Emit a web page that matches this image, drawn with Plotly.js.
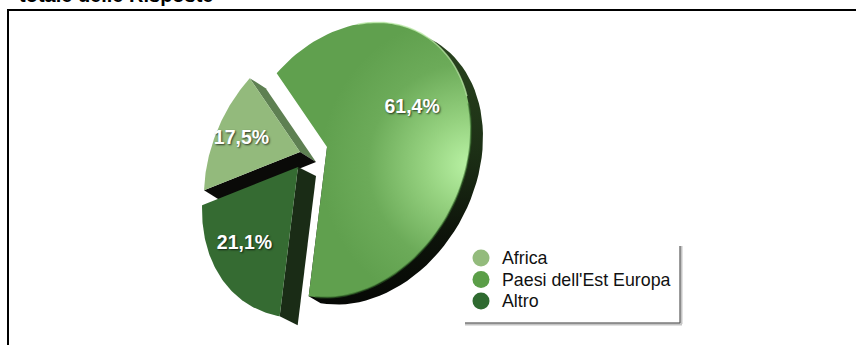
<!DOCTYPE html>
<html lang="it">
<head>
<meta charset="utf-8">
<script src="https://cdn.plot.ly/plotly-3.0.1.min.js"></script>
<style>html,body{margin:0;padding:0;background:#fff}#chart{width:856px;height:345px}</style>
</head>
<body>
<div id="chart"></div>
<script>
// Survey shares, in drawing order clockwise round the pie
const categories = ["Africa", "Paesi dell'Est Europa", "Altro"];
const shares = [17.5, 61.4, 21.1];
const faceColours = ["#93ba7c", "#60a04e", "#356b32"];
const legendColours = ["#93bb7c", "#5b9e48", "#2f6a30"];
const headingText = "totale delle Risposte";

const FONT = '"Liberation Sans", Arial, sans-serif';
const rad = d => d * Math.PI / 180;

// Tilted-disc projection: unit disc to an off-centre ellipse, keeping chords straight
const TILT = { beta: 0.245, dir: 215.3, cx: 351, cy: 160, ux: 120, uy: -30, vy: 134.3 };
function project(angle, r) {
  const a = rad(angle), px = r * Math.cos(a), py = r * Math.sin(a);
  const d = 1 + TILT.beta * px;
  const wa = (px + TILT.beta) / d, wb = py * Math.sqrt(1 - TILT.beta * TILT.beta) / d;
  const e = rad(TILT.dir);
  const n1 = Math.cos(e) * wa - Math.sin(e) * wb, n2 = Math.sin(e) * wa + Math.cos(e) * wb;
  return [TILT.cx + TILT.ux * n1, TILT.cy + TILT.uy * n1 + TILT.vy * n2];
}

// Each slice's angular span comes from its share
const START = -42;
const spans = [];
shares.reduce((acc, s) => { spans.push([acc, acc + s * 3.6]); return acc + s * 3.6; }, START);

const shifts = [[-27, 5], [0, 0], [-29, 20]];   // how far each slice is pulled out
const depths = [[16, 10], [12, 7], [18, 9]];    // extrusion vector of each slice
const labelPlace = [[0.52, -11, -1], [0.63, 7, 3], [0.58, -7, 13]];

function rim(i, off) {
  const [a0, a1] = spans[i], pts = [];
  for (let k = 0; k <= 80; k++) {
    const p = project(a0 + (a1 - a0) * k / 80, 1);
    pts.push([p[0] + shifts[i][0] + off[0], p[1] + shifts[i][1] + off[1]]);
  }
  return pts;
}
function apex(i, off) {
  const p = project(0, 0);
  return [p[0] + shifts[i][0] + off[0], p[1] + shifts[i][1] + off[1]];
}
function poly(pts, extra) {
  return Object.assign({
    type: "scatter", mode: "lines", x: pts.map(p => p[0]), y: pts.map(p => p[1]),
    fill: "toself", line: { width: 0 }, hoverinfo: "skip", showlegend: false
  }, extra);
}
function face(i) {
  const pts = rim(i, [0, 0]);
  return poly([apex(i, [0, 0])].concat(pts, [apex(i, [0, 0])]),
    { fillcolor: faceColours[i], name: categories[i] + " faccia" });
}
// Side wall along the straight edge joining rim point `end` (0 first, 80 last) and the centre
function wall(i, end, colour) {
  const f = rim(i, [0, 0])[end], b = rim(i, depths[i])[end];
  const pts = [apex(i, [0, 0]), f, b, apex(i, depths[i]), apex(i, [0, 0])];
  return poly(pts, { fillcolor: colour });
}
function bigBand() {
  const i = 1, back = rim(i, depths[i]), front = rim(i, [0, 0]);
  const pts = [apex(i, depths[i])].concat(back, [front[80], apex(i, [0, 0]), apex(i, depths[i])]);
  return poly(pts, {
    fillgradient: { type: "vertical", colorscale: [[0, "#060805"], [0.25, "#0d130a"], [0.55, "#1c2f15"], [1, "#2b4620"]] }
  });
}
// Thin bevel along part of the large slice's rim
function bevel(from, to, colour, width) {
  const pts = rim(1, [0, 0]).slice(from, to);
  return {
    type: "scatter", mode: "lines", x: pts.map(p => p[0]), y: pts.map(p => p[1]),
    line: { color: colour, width, shape: "spline" }, hoverinfo: "skip", showlegend: false
  };
}

const traces = [
  bigBand(), face(1),
  bevel(18, 44, "rgba(190,235,170,0.75)", 1.5), bevel(44, 80, "rgba(50,100,40,0.55)", 2),
  wall(0, 80, "#5e8052"), wall(0, 0, "#0a0a08"), face(0),
  wall(2, 0, "#1a2c16"), face(2)
];
const bigFaceIndex = 1;

// Percentage labels on the slice faces
const labelPts = shares.map((s, i) => {
  const p = project((spans[i][0] + spans[i][1]) / 2, labelPlace[i][0]);
  return [p[0] + shifts[i][0] + labelPlace[i][1], p[1] + shifts[i][1] + labelPlace[i][2]];
});
traces.push({
  type: "scatter", mode: "text", x: labelPts.map(p => p[0]), y: labelPts.map(p => p[1]),
  text: shares.map(s => s.toFixed(1).replace(".", ",") + "%"),
  textposition: "middle center", hoverinfo: "skip", showlegend: false,
  textfont: { family: FONT, size: 19.5, color: "#ffffff", weight: 700, shadow: "1px 1px 2px rgba(0,0,0,0.7)" }
});

// Key in the lower right: round swatches with their category names
const keyRows = categories.map((c, i) => 258 + i * 21.5);
traces.push({
  type: "scatter", mode: "markers", x: categories.map(() => 481), y: keyRows,
  marker: { size: 17, color: legendColours, symbol: "circle", line: { width: 0 } },
  hoverinfo: "skip", showlegend: false
});
traces.push({
  type: "scatter", mode: "text", x: categories.map(() => 502), y: keyRows.map(y => y + 2), text: categories,
  textposition: "middle right", hoverinfo: "skip", showlegend: false,
  textfont: { family: FONT, size: 17.8, color: "#111111" }
});

const edge = (x0, y0, x1, y1, color, width) => ({
  type: "line", xref: "x", yref: "y", x0, y0, x1, y1, line: { color, width }
});

const layout = {
  width: 856, height: 345, margin: { l: 0, r: 0, t: 0, b: 0 },
  paper_bgcolor: "#ffffff", plot_bgcolor: "#ffffff",
  xaxis: { range: [0, 856], visible: false, fixedrange: true },
  yaxis: { range: [345, 0], visible: false, fixedrange: true },
  showlegend: false,
  shapes: [
    edge(8, 10, 8, 345, "#000000", 2),
    edge(7, 10, 856, 10, "#000000", 2),
    edge(681, 246, 681, 324, "#c4c4c4", 3),
    edge(465, 324, 682, 324, "#c4c4c4", 3),
    edge(680, 246, 680, 323, "#555555", 1),
    edge(465, 323, 680, 323, "#555555", 1)
  ],
  annotations: [{
    xref: "x", yref: "y", x: 18, y: 10, xanchor: "left", yanchor: "bottom", showarrow: false,
    text: "<b>" + headingText + "</b>", borderpad: 0,
    font: { family: FONT, size: 20, color: "#000000" }, yshift: 3
  }]
};

Plotly.newPlot("chart", traces, layout, { displayModeBar: false, staticPlot: true }).then(gd => {
  // Soft highlight on the large slice, lit from its right-hand rim
  const NS = "http://www.w3.org/2000/svg";
  const svg = gd.querySelector(".main-svg");
  const defs = svg.querySelector("defs") || svg.appendChild(document.createElementNS(NS, "defs"));
  const grad = document.createElementNS(NS, "radialGradient");
  grad.setAttribute("id", "sliceGlow");
  grad.setAttribute("gradientUnits", "userSpaceOnUse");
  grad.setAttribute("cx", 470); grad.setAttribute("cy", 165); grad.setAttribute("r", 150);
  [[0, "#b9f2a4"], [0.3, "#96d280"], [0.68, "#6cab59"], [1, "#60a04e"]].forEach(([o, c]) => {
    const s = document.createElementNS(NS, "stop");
    s.setAttribute("offset", o); s.setAttribute("stop-color", c); grad.appendChild(s);
  });
  defs.appendChild(grad);
  const fill = gd.querySelectorAll(".scatterlayer .trace")[bigFaceIndex].querySelector(".js-fill");
  if (fill) fill.style.fill = "url(#sliceGlow)";
});
</script>
</body>
</html>
